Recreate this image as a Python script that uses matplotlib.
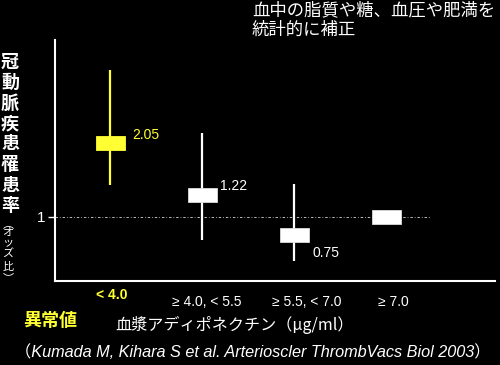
import matplotlib
matplotlib.use("Agg")
import matplotlib.pyplot as plt
from matplotlib.patches import Rectangle

# ---- data ----
categories = ["< 4.0", "≥ 4.0, < 5.5", "≥ 5.5, < 7.0", "≥ 7.0"]
odds_ratio = [2.05, 1.31, 0.75, 1.0]          # box centres as drawn
odds_label = ["2.05", "1.22", "0.75", ""]
ci_low = [1.45, 0.67, 0.38, None]
ci_high = [3.08, 2.19, 1.47, None]
ytick_vals = [1]
ytick_labels = ["1"]

CJK = ["Noto Sans CJK JP", "DejaVu Sans"]
LAT = ["Liberation Sans", "Noto Sans CJK JP", "DejaVu Sans"]
plt.rcParams["font.family"] = CJK

W, H = 500, 365
fig = plt.figure(figsize=(5, 3.65), dpi=100, facecolor="black")


def fx(px):
    return px / W


def fy(py):
    return 1 - py / H


ax = fig.add_axes([fx(55), fy(281), fx(495) - fx(55), fy(40) - fy(281)])
ax.set_facecolor("black")
ax.set_xlim(-0.603, 4.18)
ax.set_ylim(0.092, 3.51)

YEL = "#FFFF33"
colors = [YEL, "white", "white", "white"]
box_w = 0.31
box_h = 0.2

# reference line
ax.plot([-0.603, 3.486], [1, 1], color="#bbbbbb", lw=0.7,
        dashes=(2.5, 2, 0.8, 2), zorder=1)

for i, (c, lo, hi, col) in enumerate(zip(odds_ratio, ci_low, ci_high, colors)):
    if lo is not None:
        ax.vlines(i, lo, hi, color=col, lw=1.6, zorder=2)
    ax.add_patch(Rectangle((i - box_w / 2, c - box_h / 2), box_w, box_h,
                           facecolor=col, edgecolor="#dddddd" if col == "white" else col,
                           lw=0.6, zorder=3))

label_off = [(8, 8), (3, 9), (4, -18), (0, 0)]
for i, (c, lab, col, off) in enumerate(zip(odds_ratio, odds_label, colors, label_off)):
    if lab:
        ax.annotate(lab, (i + box_w / 2, c), xytext=(off[0], off[1]),
                    textcoords="offset pixels", color=col, fontsize=10,
                    ha="left", va="center", family=LAT)

# axes styling
for s in ["top", "right"]:
    ax.spines[s].set_visible(False)
for s in ["left", "bottom"]:
    ax.spines[s].set_color("white")
    ax.spines[s].set_linewidth(1.5)
ax.set_xticks([])
ax.set_yticks(ytick_vals)
ax.set_yticklabels(ytick_labels, color="white", fontsize=11, family=LAT)
ax.tick_params(axis="y", colors="white", length=5, width=1, pad=2)

# category labels
cat_px = [(112, 295), (207, 302), (307, 302), (393, 302)]
for i, (lab, (px, py)) in enumerate(zip(categories, cat_px)):
    fig.text(fx(px), fy(py), lab, color=YEL if i == 0 else "white",
             fontsize=10, fontweight="bold" if i == 0 else "normal",
             ha="center", va="center", family=LAT)

# x-axis title
fig.text(fx(235), fy(325), "血漿アディポネクチン（μg/ml）", color="white",
         fontsize=11.6, ha="center", va="center")
fig.text(fx(50), fy(321), "異常値", color=YEL, fontsize=13,
         fontweight="bold", ha="center", va="center")

# top note
fig.text(fx(252), fy(1), "血中の脂質や糖、血圧や肥満を\n統計的に補正", color="white",
         fontsize=12.5, ha="left", va="top", linespacing=1.15)

# vertical y label
big = "冠動脈疾患罹患率"
for k, ch in enumerate(big):
    fig.text(fx(10), fy(62 + k * 20.5), ch, color="white", fontsize=13,
             fontweight="bold", ha="center", va="center")
small = ["︵", "オ", "ッ", "ズ", "比", "︶"]
small_y = [224, 233, 243, 254, 267, 278]
for ch, py in zip(small, small_y):
    fig.text(fx(8), fy(py), ch, color="white", fontsize=8,
             ha="center", va="center")

# citation
fig.text(fx(15), fy(352),
         "（Kumada M, Kihara S et al. Arterioscler ThrombVacs Biol 2003）",
         color="white", fontsize=11.7, style="italic", ha="left", va="center",
         family=["Liberation Sans", "Noto Sans CJK JP"])

fig.savefig("out.png", dpi=100, facecolor="black")
